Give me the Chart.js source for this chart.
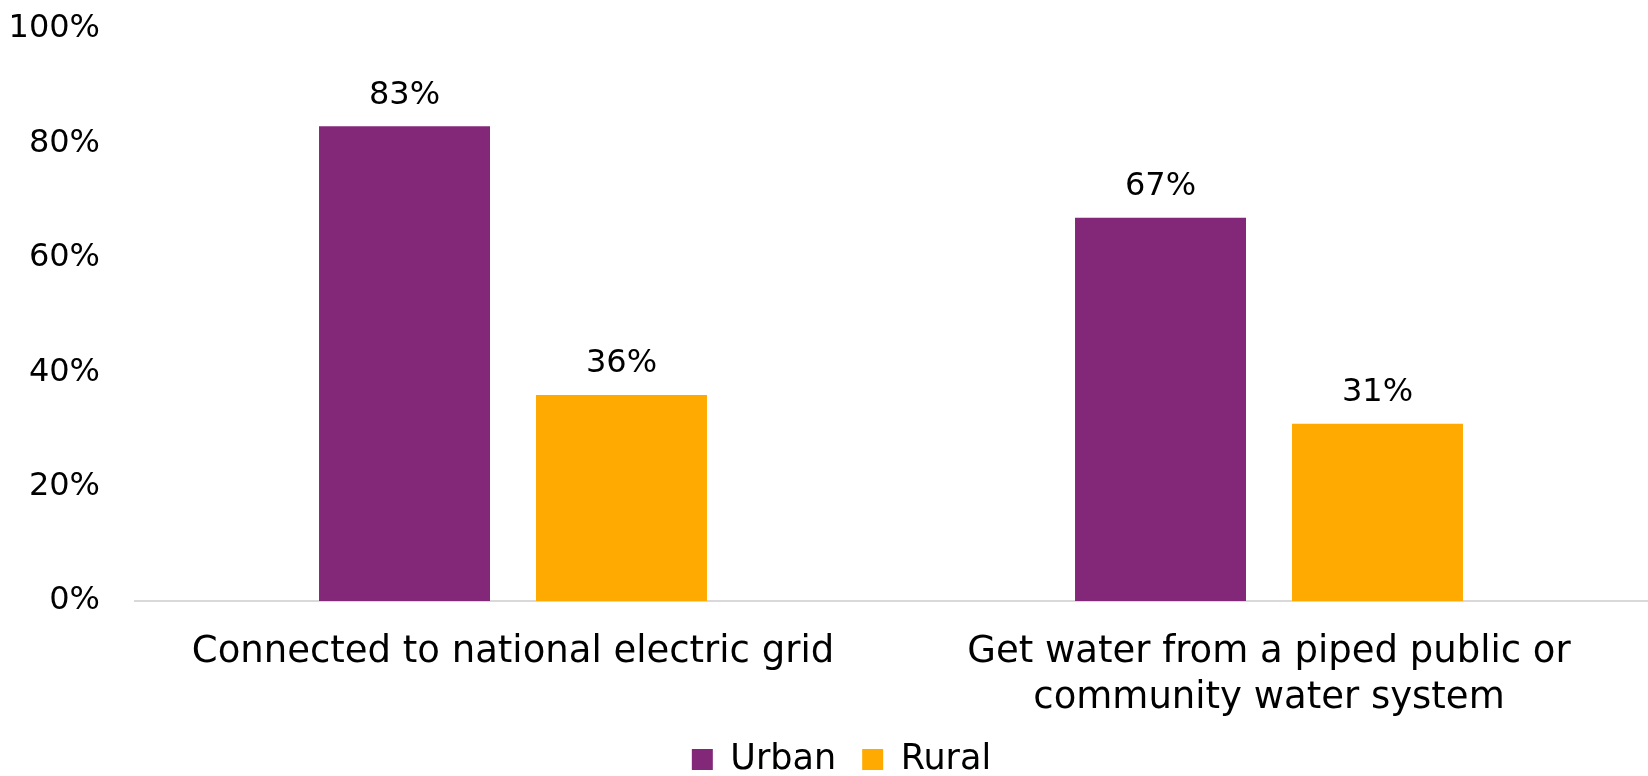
<!DOCTYPE html>
<html lang="en">
<head>
  <meta charset="UTF-8" />
  <title>Urban vs Rural Access</title>
  <script src="https://cdn.jsdelivr.net/npm/chart.js"></script>
  <style>
    html, body {
      margin: 0;
      padding: 0;
      background: #fff;
    }
    .chart-box {
      width: 1648px;
      height: 776px;
      position: relative;
    }
  </style>
</head>
<body>
  <div class="chart-box">
    <canvas id="accessChart"></canvas>
  </div>

  <script>
    const categories = [
      'Connected to national electric grid',
      ['Get water from a piped public or', 'community water system']
    ];
    const urbanValues = [83, 67];
    const ruralValues = [36, 31];
    const seriesNames = ['Urban', 'Rural'];
    const yTickValues = [0, 20, 40, 60, 80, 100];

    const fontFamily = "'DejaVu Sans', sans-serif";

    // draws the "83%" style labels on top of each bar
    const barValueLabels = {
      id: 'barValueLabels',
      afterDatasetsDraw(chart) {
        const ctx = chart.ctx;
        ctx.save();
        ctx.font = '32px ' + fontFamily;
        ctx.fillStyle = '#000';
        ctx.textAlign = 'center';
        ctx.textBaseline = 'middle';
        chart.data.datasets.forEach((ds, i) => {
          chart.getDatasetMeta(i).data.forEach((bar, j) => {
            ctx.fillText(ds.data[j] + '%', bar.x, bar.y - 31);
          });
        });
        ctx.restore();
      }
    };

    // legend in the original sits a bit right of the canvas centre
    const legendNudge = {
      id: 'legendNudge',
      afterLayout(chart) {
        if (chart.legend) {
          chart.legend.left += 18;
          chart.legend.right += 18;
        }
      }
    };

    const ctx = document.getElementById('accessChart').getContext('2d');
    new Chart(ctx, {
      type: 'bar',
      data: {
        labels: categories,
        datasets: [{
          label: seriesNames[0],
          data: urbanValues,
          backgroundColor: '#832878',
          categoryPercentage: 0.574,
          barPercentage: 0.788
        }, {
          label: seriesNames[1],
          data: ruralValues,
          backgroundColor: '#FFAA00',
          categoryPercentage: 0.574,
          barPercentage: 0.788
        }]
      },
      options: {
        responsive: true,
        maintainAspectRatio: false,
        animation: false,
        layout: {
          padding: { top: 29, right: 1, left: 0, bottom: -11 }
        },
        plugins: {
          legend: {
            position: 'bottom',
            labels: {
              boxWidth: 21,
              boxHeight: 21,
              padding: 26,
              color: '#000',
              font: { family: fontFamily, size: 35 }
            }
          },
          tooltip: { enabled: false }
        },
        scales: {
          x: {
            afterFit(scale) {
              scale.height = 115;
              scale.paddingTop = 0;
              scale.paddingBottom = 0;
            },
            grid: {
              display: true,
              drawOnChartArea: false,
              drawTicks: false,
              color: 'transparent'
            },
            border: { display: true, color: '#d9d9d9', width: 2 },
            ticks: {
              color: '#000',
              padding: 28,
              font: { family: fontFamily, size: 37, lineHeight: 1.25 }
            }
          },
          y: {
            min: 0,
            max: 100,
            afterFit(scale) {
              scale.width = 135;
              scale.paddingTop = 0;
              scale.paddingBottom = 0;
            },
            afterBuildTicks(scale) {
              scale.ticks = yTickValues.map(v => ({ value: v }));
            },
            grid: { display: false, drawTicks: false },
            border: { display: false },
            ticks: {
              color: '#000',
              padding: 35,
              font: { family: fontFamily, size: 32 },
              callback: v => v + '%'
            }
          }
        }
      },
      plugins: [barValueLabels, legendNudge]
    });
  </script>
</body>
</html>
